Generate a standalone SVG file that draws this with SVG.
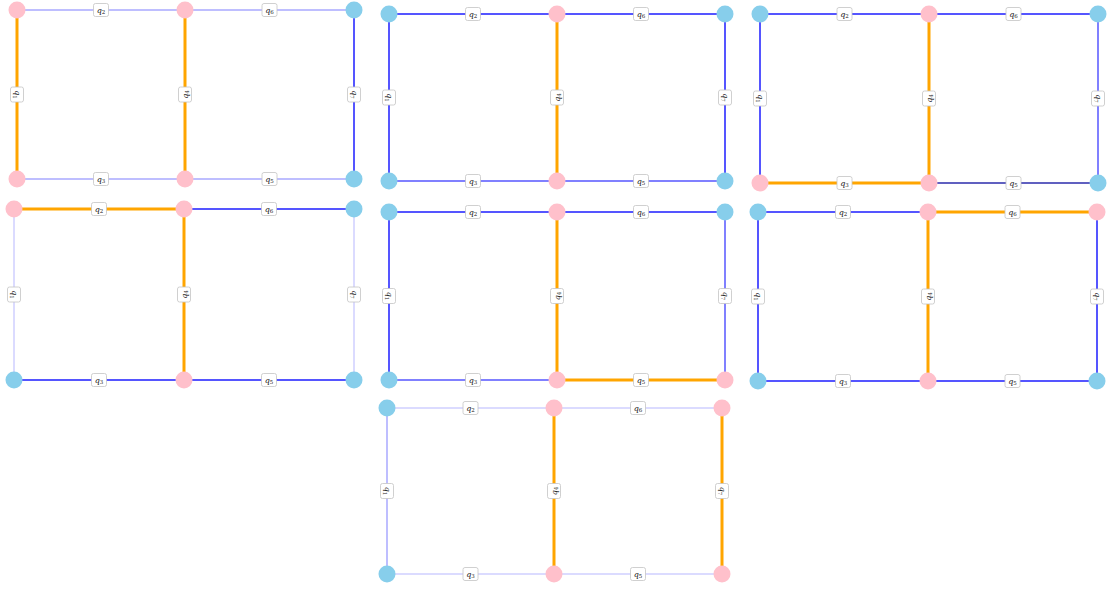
<svg xmlns="http://www.w3.org/2000/svg" width="1107" height="590" viewBox="0 0 1107 590">
<style>
.pk{fill:#FFC0CB}
.bl{fill:#87CEEB}
line{fill:none}
.o{stroke:#FFA500;stroke-width:3}
.b{stroke:#5555ff;stroke-width:2}
.b2{stroke:#8080ff;stroke-width:2}
.d{stroke:#6060c0;stroke-width:1.8}
.l{stroke:#a8a8ff;stroke-width:1.5}
.ll{stroke:#cfcfff;stroke-width:1.5}
.lb rect{fill:#fff;stroke:#c4c4c4;stroke-width:0.8}
.lb text{font-family:"DejaVu Serif","Liberation Serif",serif;font-style:italic;font-size:8px;fill:#222;text-anchor:middle}
.lb tspan{font-size:5.5px;font-style:normal}
</style>
<rect width="1107" height="590" fill="#fff"/>

<!-- Panel 1 -->
<g id="connectors-1">
<line class="l" x1="17" y1="10" x2="185" y2="10"/>
<line class="l" x1="185" y1="10" x2="354" y2="10"/>
<line class="o" x1="17" y1="10" x2="17" y2="179"/>
<line class="o" x1="185" y1="10" x2="185" y2="179"/>
<line class="b" x1="354" y1="10" x2="354" y2="179"/>
<line class="l" x1="17" y1="179" x2="185" y2="179"/>
<line class="l" x1="185" y1="179" x2="354" y2="179"/>
<g class="lb" transform="translate(101,10)"><rect x="-7.5" y="-6.5" width="15" height="13" rx="2"/><text y="2.5">q<tspan dy="1.5">2</tspan></text></g>
<g class="lb" transform="translate(269.5,10)"><rect x="-7.5" y="-6.5" width="15" height="13" rx="2"/><text y="2.5">q<tspan dy="1.5">6</tspan></text></g>
<g class="lb" transform="translate(17,94.5) rotate(90)"><rect x="-7.5" y="-6.5" width="15" height="13" rx="2"/><text y="2.5">q<tspan dy="1.5">1</tspan></text></g>
<g class="lb" transform="translate(185,94.5) rotate(-90)"><rect x="-7.5" y="-6.5" width="15" height="13" rx="2"/><text y="2.5">q<tspan dy="1.5">4</tspan></text></g>
<g class="lb" transform="translate(354,94.5) rotate(90)"><rect x="-7.5" y="-6.5" width="15" height="13" rx="2"/><text y="2.5">q<tspan dy="1.5">7</tspan></text></g>
<g class="lb" transform="translate(101,179)"><rect x="-7.5" y="-6.5" width="15" height="13" rx="2"/><text y="2.5">q<tspan dy="1.5">3</tspan></text></g>
<g class="lb" transform="translate(269.5,179)"><rect x="-7.5" y="-6.5" width="15" height="13" rx="2"/><text y="2.5">q<tspan dy="1.5">5</tspan></text></g>
</g>
<g id="p1-n1"><circle class="pk" cx="17" cy="10" r="8.5"/></g>
<g id="p1-n2"><circle class="pk" cx="185" cy="10" r="8.5"/></g>
<g id="p1-n3"><circle class="bl" cx="354" cy="10" r="8.5"/></g>
<g id="p1-n4"><circle class="pk" cx="17" cy="179" r="8.5"/></g>
<g id="p1-n5"><circle class="pk" cx="185" cy="179" r="8.5"/></g>
<g id="p1-n6"><circle class="bl" cx="354" cy="179" r="8.5"/></g>

<!-- Panel 2 -->
<g id="connectors-2">
<line class="b" x1="389" y1="14" x2="557" y2="14"/>
<line class="b" x1="557" y1="14" x2="725" y2="14"/>
<line class="b" x1="389" y1="14" x2="389" y2="181"/>
<line class="o" x1="557" y1="14" x2="557" y2="181"/>
<line class="b" x1="725" y1="14" x2="725" y2="181"/>
<line class="b2" x1="389" y1="181" x2="557" y2="181"/>
<line class="b2" x1="557" y1="181" x2="725" y2="181"/>
<g class="lb" transform="translate(473,14)"><rect x="-7.5" y="-6.5" width="15" height="13" rx="2"/><text y="2.5">q<tspan dy="1.5">2</tspan></text></g>
<g class="lb" transform="translate(641,14)"><rect x="-7.5" y="-6.5" width="15" height="13" rx="2"/><text y="2.5">q<tspan dy="1.5">6</tspan></text></g>
<g class="lb" transform="translate(389,97.5) rotate(90)"><rect x="-7.5" y="-6.5" width="15" height="13" rx="2"/><text y="2.5">q<tspan dy="1.5">1</tspan></text></g>
<g class="lb" transform="translate(557,97.5) rotate(-90)"><rect x="-7.5" y="-6.5" width="15" height="13" rx="2"/><text y="2.5">q<tspan dy="1.5">4</tspan></text></g>
<g class="lb" transform="translate(725,97.5) rotate(90)"><rect x="-7.5" y="-6.5" width="15" height="13" rx="2"/><text y="2.5">q<tspan dy="1.5">7</tspan></text></g>
<g class="lb" transform="translate(473,181)"><rect x="-7.5" y="-6.5" width="15" height="13" rx="2"/><text y="2.5">q<tspan dy="1.5">3</tspan></text></g>
<g class="lb" transform="translate(641,181)"><rect x="-7.5" y="-6.5" width="15" height="13" rx="2"/><text y="2.5">q<tspan dy="1.5">5</tspan></text></g>
</g>
<g id="p2-n1"><circle class="bl" cx="389" cy="14" r="8.5"/></g>
<g id="p2-n2"><circle class="pk" cx="557" cy="14" r="8.5"/></g>
<g id="p2-n3"><circle class="bl" cx="725" cy="14" r="8.5"/></g>
<g id="p2-n4"><circle class="bl" cx="389" cy="181" r="8.5"/></g>
<g id="p2-n5"><circle class="pk" cx="557" cy="181" r="8.5"/></g>
<g id="p2-n6"><circle class="bl" cx="725" cy="181" r="8.5"/></g>

<!-- Panel 3 -->
<g id="connectors-3">
<line class="b" x1="760" y1="14" x2="929" y2="14"/>
<line class="b" x1="929" y1="14" x2="1098" y2="14"/>
<line class="b" x1="760" y1="14" x2="760" y2="183"/>
<line class="o" x1="929" y1="14" x2="929" y2="183"/>
<line class="b2" x1="1098" y1="14" x2="1098" y2="183"/>
<line class="o" x1="760" y1="183" x2="929" y2="183"/>
<line class="d" x1="929" y1="183" x2="1098" y2="183"/>
<g class="lb" transform="translate(844.5,14)"><rect x="-7.5" y="-6.5" width="15" height="13" rx="2"/><text y="2.5">q<tspan dy="1.5">2</tspan></text></g>
<g class="lb" transform="translate(1013.5,14)"><rect x="-7.5" y="-6.5" width="15" height="13" rx="2"/><text y="2.5">q<tspan dy="1.5">6</tspan></text></g>
<g class="lb" transform="translate(760,98.5) rotate(90)"><rect x="-7.5" y="-6.5" width="15" height="13" rx="2"/><text y="2.5">q<tspan dy="1.5">1</tspan></text></g>
<g class="lb" transform="translate(929,98.5) rotate(-90)"><rect x="-7.5" y="-6.5" width="15" height="13" rx="2"/><text y="2.5">q<tspan dy="1.5">4</tspan></text></g>
<g class="lb" transform="translate(1098,98.5) rotate(90)"><rect x="-7.5" y="-6.5" width="15" height="13" rx="2"/><text y="2.5">q<tspan dy="1.5">7</tspan></text></g>
<g class="lb" transform="translate(844.5,183)"><rect x="-7.5" y="-6.5" width="15" height="13" rx="2"/><text y="2.5">q<tspan dy="1.5">3</tspan></text></g>
<g class="lb" transform="translate(1013.5,183)"><rect x="-7.5" y="-6.5" width="15" height="13" rx="2"/><text y="2.5">q<tspan dy="1.5">5</tspan></text></g>
</g>
<g id="p3-n1"><circle class="bl" cx="760" cy="14" r="8.5"/></g>
<g id="p3-n2"><circle class="pk" cx="929" cy="14" r="8.5"/></g>
<g id="p3-n3"><circle class="bl" cx="1098" cy="14" r="8.5"/></g>
<g id="p3-n4"><circle class="pk" cx="760" cy="183" r="8.5"/></g>
<g id="p3-n5"><circle class="pk" cx="929" cy="183" r="8.5"/></g>
<g id="p3-n6"><circle class="bl" cx="1098" cy="183" r="8.5"/></g>

<!-- Panel 4 -->
<g id="connectors-4">
<line class="o" x1="14" y1="209" x2="184" y2="209"/>
<line class="b" x1="184" y1="209" x2="354" y2="209"/>
<line class="ll" x1="14" y1="209" x2="14" y2="380"/>
<line class="o" x1="184" y1="209" x2="184" y2="380"/>
<line class="ll" x1="354" y1="209" x2="354" y2="380"/>
<line class="b" x1="14" y1="380" x2="184" y2="380"/>
<line class="b" x1="184" y1="380" x2="354" y2="380"/>
<g class="lb" transform="translate(99,209)"><rect x="-7.5" y="-6.5" width="15" height="13" rx="2"/><text y="2.5">q<tspan dy="1.5">2</tspan></text></g>
<g class="lb" transform="translate(269,209)"><rect x="-7.5" y="-6.5" width="15" height="13" rx="2"/><text y="2.5">q<tspan dy="1.5">6</tspan></text></g>
<g class="lb" transform="translate(14,294.5) rotate(90)"><rect x="-7.5" y="-6.5" width="15" height="13" rx="2"/><text y="2.5">q<tspan dy="1.5">1</tspan></text></g>
<g class="lb" transform="translate(184,294.5) rotate(-90)"><rect x="-7.5" y="-6.5" width="15" height="13" rx="2"/><text y="2.5">q<tspan dy="1.5">4</tspan></text></g>
<g class="lb" transform="translate(354,294.5) rotate(90)"><rect x="-7.5" y="-6.5" width="15" height="13" rx="2"/><text y="2.5">q<tspan dy="1.5">7</tspan></text></g>
<g class="lb" transform="translate(99,380)"><rect x="-7.5" y="-6.5" width="15" height="13" rx="2"/><text y="2.5">q<tspan dy="1.5">3</tspan></text></g>
<g class="lb" transform="translate(269,380)"><rect x="-7.5" y="-6.5" width="15" height="13" rx="2"/><text y="2.5">q<tspan dy="1.5">5</tspan></text></g>
</g>
<g id="p4-n1"><circle class="pk" cx="14" cy="209" r="8.5"/></g>
<g id="p4-n2"><circle class="pk" cx="184" cy="209" r="8.5"/></g>
<g id="p4-n3"><circle class="bl" cx="354" cy="209" r="8.5"/></g>
<g id="p4-n4"><circle class="bl" cx="14" cy="380" r="8.5"/></g>
<g id="p4-n5"><circle class="pk" cx="184" cy="380" r="8.5"/></g>
<g id="p4-n6"><circle class="bl" cx="354" cy="380" r="8.5"/></g>

<!-- Panel 5 -->
<g id="connectors-5">
<line class="b" x1="389" y1="212" x2="557" y2="212"/>
<line class="b" x1="557" y1="212" x2="725" y2="212"/>
<line class="b" x1="389" y1="212" x2="389" y2="380"/>
<line class="o" x1="557" y1="212" x2="557" y2="380"/>
<line class="b2" x1="725" y1="212" x2="725" y2="380"/>
<line class="b2" x1="389" y1="380" x2="557" y2="380"/>
<line class="o" x1="557" y1="380" x2="725" y2="380"/>
<g class="lb" transform="translate(473,212)"><rect x="-7.5" y="-6.5" width="15" height="13" rx="2"/><text y="2.5">q<tspan dy="1.5">2</tspan></text></g>
<g class="lb" transform="translate(641,212)"><rect x="-7.5" y="-6.5" width="15" height="13" rx="2"/><text y="2.5">q<tspan dy="1.5">6</tspan></text></g>
<g class="lb" transform="translate(389,296) rotate(90)"><rect x="-7.5" y="-6.5" width="15" height="13" rx="2"/><text y="2.5">q<tspan dy="1.5">1</tspan></text></g>
<g class="lb" transform="translate(557,296) rotate(-90)"><rect x="-7.5" y="-6.5" width="15" height="13" rx="2"/><text y="2.5">q<tspan dy="1.5">4</tspan></text></g>
<g class="lb" transform="translate(725,296) rotate(90)"><rect x="-7.5" y="-6.5" width="15" height="13" rx="2"/><text y="2.5">q<tspan dy="1.5">7</tspan></text></g>
<g class="lb" transform="translate(473,380)"><rect x="-7.5" y="-6.5" width="15" height="13" rx="2"/><text y="2.5">q<tspan dy="1.5">3</tspan></text></g>
<g class="lb" transform="translate(641,380)"><rect x="-7.5" y="-6.5" width="15" height="13" rx="2"/><text y="2.5">q<tspan dy="1.5">5</tspan></text></g>
</g>
<g id="p5-n1"><circle class="bl" cx="389" cy="212" r="8.5"/></g>
<g id="p5-n2"><circle class="pk" cx="557" cy="212" r="8.5"/></g>
<g id="p5-n3"><circle class="bl" cx="725" cy="212" r="8.5"/></g>
<g id="p5-n4"><circle class="bl" cx="389" cy="380" r="8.5"/></g>
<g id="p5-n5"><circle class="pk" cx="557" cy="380" r="8.5"/></g>
<g id="p5-n6"><circle class="pk" cx="725" cy="380" r="8.5"/></g>

<!-- Panel 6 -->
<g id="connectors-6">
<line class="b" x1="758" y1="212" x2="928" y2="212"/>
<line class="o" x1="928" y1="212" x2="1097" y2="212"/>
<line class="b" x1="758" y1="212" x2="758" y2="381"/>
<line class="o" x1="928" y1="212" x2="928" y2="381"/>
<line class="b" x1="1097" y1="212" x2="1097" y2="381"/>
<line class="b" x1="758" y1="381" x2="928" y2="381"/>
<line class="b" x1="928" y1="381" x2="1097" y2="381"/>
<g class="lb" transform="translate(843,212)"><rect x="-7.5" y="-6.5" width="15" height="13" rx="2"/><text y="2.5">q<tspan dy="1.5">2</tspan></text></g>
<g class="lb" transform="translate(1012.5,212)"><rect x="-7.5" y="-6.5" width="15" height="13" rx="2"/><text y="2.5">q<tspan dy="1.5">6</tspan></text></g>
<g class="lb" transform="translate(758,296.5) rotate(90)"><rect x="-7.5" y="-6.5" width="15" height="13" rx="2"/><text y="2.5">q<tspan dy="1.5">1</tspan></text></g>
<g class="lb" transform="translate(928,296.5) rotate(-90)"><rect x="-7.5" y="-6.5" width="15" height="13" rx="2"/><text y="2.5">q<tspan dy="1.5">4</tspan></text></g>
<g class="lb" transform="translate(1097,296.5) rotate(90)"><rect x="-7.5" y="-6.5" width="15" height="13" rx="2"/><text y="2.5">q<tspan dy="1.5">7</tspan></text></g>
<g class="lb" transform="translate(843,381)"><rect x="-7.5" y="-6.5" width="15" height="13" rx="2"/><text y="2.5">q<tspan dy="1.5">3</tspan></text></g>
<g class="lb" transform="translate(1012.5,381)"><rect x="-7.5" y="-6.5" width="15" height="13" rx="2"/><text y="2.5">q<tspan dy="1.5">5</tspan></text></g>
</g>
<g id="p6-n1"><circle class="bl" cx="758" cy="212" r="8.5"/></g>
<g id="p6-n2"><circle class="pk" cx="928" cy="212" r="8.5"/></g>
<g id="p6-n3"><circle class="pk" cx="1097" cy="212" r="8.5"/></g>
<g id="p6-n4"><circle class="bl" cx="758" cy="381" r="8.5"/></g>
<g id="p6-n5"><circle class="pk" cx="928" cy="381" r="8.5"/></g>
<g id="p6-n6"><circle class="bl" cx="1097" cy="381" r="8.5"/></g>

<!-- Panel 7 -->
<g id="connectors-7">
<line class="ll" x1="387" y1="408" x2="554" y2="408"/>
<line class="ll" x1="554" y1="408" x2="722" y2="408"/>
<line class="l" x1="387" y1="408" x2="387" y2="574"/>
<line class="o" x1="554" y1="408" x2="554" y2="574"/>
<line class="o" x1="722" y1="408" x2="722" y2="574"/>
<line class="ll" x1="387" y1="574" x2="554" y2="574"/>
<line class="ll" x1="554" y1="574" x2="722" y2="574"/>
<g class="lb" transform="translate(470.5,408)"><rect x="-7.5" y="-6.5" width="15" height="13" rx="2"/><text y="2.5">q<tspan dy="1.5">2</tspan></text></g>
<g class="lb" transform="translate(638,408)"><rect x="-7.5" y="-6.5" width="15" height="13" rx="2"/><text y="2.5">q<tspan dy="1.5">6</tspan></text></g>
<g class="lb" transform="translate(387,491) rotate(90)"><rect x="-7.5" y="-6.5" width="15" height="13" rx="2"/><text y="2.5">q<tspan dy="1.5">1</tspan></text></g>
<g class="lb" transform="translate(554,491) rotate(-90)"><rect x="-7.5" y="-6.5" width="15" height="13" rx="2"/><text y="2.5">q<tspan dy="1.5">4</tspan></text></g>
<g class="lb" transform="translate(722,491) rotate(90)"><rect x="-7.5" y="-6.5" width="15" height="13" rx="2"/><text y="2.5">q<tspan dy="1.5">7</tspan></text></g>
<g class="lb" transform="translate(470.5,574)"><rect x="-7.5" y="-6.5" width="15" height="13" rx="2"/><text y="2.5">q<tspan dy="1.5">3</tspan></text></g>
<g class="lb" transform="translate(638,574)"><rect x="-7.5" y="-6.5" width="15" height="13" rx="2"/><text y="2.5">q<tspan dy="1.5">5</tspan></text></g>
</g>
<g id="p7-n1"><circle class="bl" cx="387" cy="408" r="8.5"/></g>
<g id="p7-n2"><circle class="pk" cx="554" cy="408" r="8.5"/></g>
<g id="p7-n3"><circle class="pk" cx="722" cy="408" r="8.5"/></g>
<g id="p7-n4"><circle class="bl" cx="387" cy="574" r="8.5"/></g>
<g id="p7-n5"><circle class="pk" cx="554" cy="574" r="8.5"/></g>
<g id="p7-n6"><circle class="pk" cx="722" cy="574" r="8.5"/></g>
</svg>
